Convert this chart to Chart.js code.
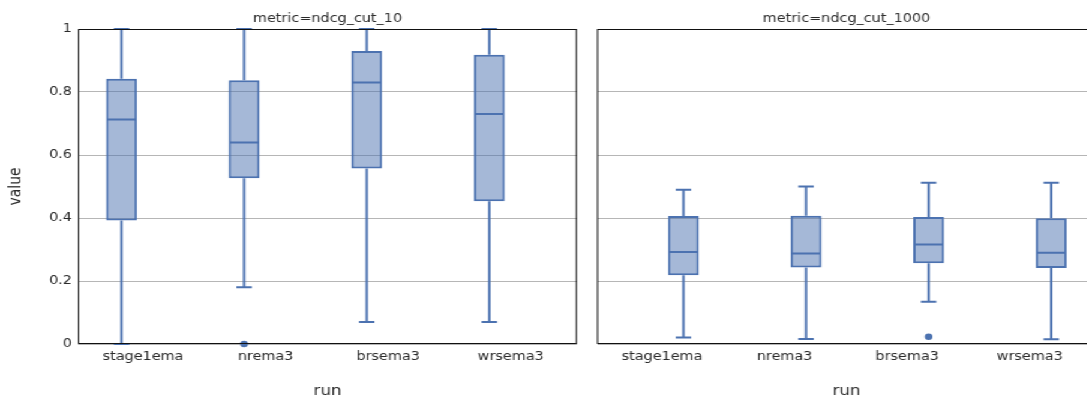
<!DOCTYPE html>
<html>
<head>
<meta charset="utf-8">
<script src="https://cdn.jsdelivr.net/npm/chart.js@4.4.1/dist/chart.umd.min.js"></script>
<style>
  html, body { margin: 0; padding: 0; background: #fff; overflow: hidden; }
  /* the reference is a plot drawn ~906px wide and stretched to 1087px */
  #wrap { position: relative; width: 906px; height: 398px; transform: scaleX(1.2); transform-origin: 0 0; }
  canvas { position: absolute; top: 0; }
</style>
</head>
<body>
<div id="wrap">
  <canvas id="panel10" width="489" height="398" style="left:0;width:489px;height:398px"></canvas>
  <canvas id="panel1000" width="433" height="398" style="left:489px;width:433px;height:398px"></canvas>
</div>
<script>
const categories = ["stage1ema", "nrema3", "brsema3", "wrsema3"];

// metric=ndcg_cut_10
const lower10 = [0.0, 0.18, 0.07, 0.07];
const q1_10 = [0.392, 0.526, 0.557, 0.453];
const median10 = [0.713, 0.640, 0.830, 0.730];
const q3_10 = [0.842, 0.837, 0.930, 0.918];
const upper10 = [1.0, 1.0, 1.0, 1.0];
const outliers10 = [[], [0.0], [], []];

// metric=ndcg_cut_1000
const lower1000 = [0.021, 0.016, 0.134, 0.015];
const q1_1000 = [0.218, 0.243, 0.256, 0.241];
const median1000 = [0.292, 0.287, 0.316, 0.290];
const q3_1000 = [0.406, 0.407, 0.403, 0.399];
const upper1000 = [0.490, 0.500, 0.512, 0.512];
const outliers1000 = [[], [], [0.023], []];

const yTicks = [0, 0.2, 0.4, 0.6, 0.8, 1];

const lineColor = "rgb(76,114,176)";
const fillColor = "rgba(76,114,176,0.5)";
const textColor = "rgb(42,42,42)";
const gridColor = "rgb(182,182,182)";
const family = "'DejaVu Sans', sans-serif";

// whiskers, medians, outliers, frame and facet title
const boxParts = {
  id: "boxparts",
  afterDatasetsDraw(chart) {
    const o = chart.options.plugins.boxparts;
    const y = chart.scales.y;
    const meta = chart.getDatasetMeta(o.slot);
    const ctx = chart.ctx;
    ctx.save();
    ctx.strokeStyle = lineColor;
    ctx.fillStyle = lineColor;
    ctx.lineWidth = 2;
    meta.data.forEach((bar, i) => {
      const x = bar.x;
      const half = bar.width / 2;
      const yLo = y.getPixelForValue(o.lower[i]);
      const yQ1 = y.getPixelForValue(o.q1[i]);
      const yMed = y.getPixelForValue(o.median[i]);
      const yQ3 = y.getPixelForValue(o.q3[i]);
      const yHi = y.getPixelForValue(o.upper[i]);
      ctx.beginPath();
      ctx.moveTo(x, yQ3); ctx.lineTo(x, yHi);
      ctx.moveTo(x, yQ1); ctx.lineTo(x, yLo);
      ctx.moveTo(x - half / 2, yHi); ctx.lineTo(x + half / 2, yHi);
      ctx.moveTo(x - half / 2, yLo); ctx.lineTo(x + half / 2, yLo);
      ctx.moveTo(x - half + 1, yMed); ctx.lineTo(x + half - 1, yMed);
      ctx.stroke();
      o.outliers[i].forEach(v => {
        ctx.beginPath();
        ctx.arc(x, y.getPixelForValue(v), 3.2, 0, Math.PI * 2);
        ctx.fill();
      });
    });
    ctx.restore();
  },
  afterDraw(chart) {
    const o = chart.options.plugins.boxparts;
    const a = chart.chartArea;
    const ctx = chart.ctx;
    ctx.save();
    ctx.strokeStyle = "#111";
    ctx.lineWidth = 1;
    ctx.strokeRect(a.left + 0.5, Math.round(a.top) + 0.5,
      a.right - a.left - 1, Math.round(a.bottom - a.top) - 1);
    ctx.fillStyle = textColor;
    ctx.font = "12px " + family;
    ctx.textAlign = "center";
    ctx.textBaseline = "middle";
    ctx.fillText(o.title, (a.left + a.right) / 2, 18.8);
    ctx.restore();
  }
};

function makePanel(id, p) {
  const boxes = {
    data: categories.map((c, i) => ({ x: i, y: [p.q1[i], p.q3[i]] })),
    backgroundColor: fillColor,
    borderColor: lineColor,
    borderWidth: 2,
    borderSkipped: false
  };
  const empty = { data: [] };
  const datasets = p.slot === 0 ? [boxes, empty] : [empty, boxes];

  return new Chart(document.getElementById(id), {
    type: "bar",
    data: { datasets: datasets },
    options: {
      responsive: false,
      animation: false,
      categoryPercentage: 0.7,
      barPercentage: 0.72,
      layout: { padding: { top: 29, right: p.padRight, bottom: 0, left: 0 } },
      plugins: {
        legend: { display: false },
        tooltip: { enabled: false },
        boxparts: p
      },
      scales: {
        x: {
          type: "linear",
          min: -0.53,
          max: 3.54,
          offset: false,
          grid: { display: false, offset: false, drawTicks: false },
          border: { display: false },
          afterBuildTicks: s => { s.ticks = categories.map((c, i) => ({ value: i })); },
          ticks: {
            autoSkip: false,
            maxRotation: 0,
            padding: 6,
            color: textColor,
            font: { family: family, size: 12 },
            callback: v => categories[v]
          },
          title: {
            display: true,
            text: "run",
            color: textColor,
            font: { family: family, size: 14, lineHeight: 0.93 },
            padding: { top: 0, bottom: 0 }
          },
          afterFit: s => { s.height = 54; }
        },
        y: {
          min: 0,
          max: 1,
          afterBuildTicks: s => { s.ticks = yTicks.map(v => ({ value: v })); },
          grid: { color: gridColor, lineWidth: 1, drawTicks: false },
          border: { display: false },
          ticks: {
            display: p.showY,
            padding: 5,
            color: textColor,
            font: { family: family, size: 12 },
            callback: v => String(Math.round(v * 10) / 10)
          },
          title: {
            display: p.showY,
            text: "value",
            color: textColor,
            font: { family: family, size: 14, lineHeight: 1 },
            padding: { top: 6.3, bottom: 0 }
          },
          afterFit: s => { s.width = p.yWidth; }
        }
      }
    },
    plugins: [boxParts]
  });
}

makePanel("panel10", {
  title: "metric=ndcg_cut_10",
  slot: 0, showY: true, yWidth: 65, padRight: 8.2,
  lower: lower10, q1: q1_10, median: median10, q3: q3_10, upper: upper10, outliers: outliers10
});

makePanel("panel1000", {
  title: "metric=ndcg_cut_1000",
  slot: 1, showY: false, yWidth: 8.5, padRight: 8.7,
  lower: lower1000, q1: q1_1000, median: median1000, q3: q3_1000, upper: upper1000, outliers: outliers1000
});
</script>
</body>
</html>
